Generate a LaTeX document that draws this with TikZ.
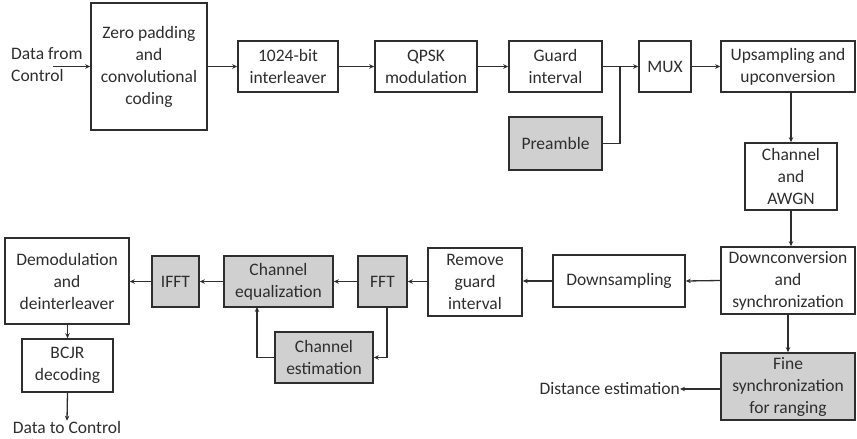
\documentclass[tikz,border=0pt]{standalone}
\usepackage{fontspec}
\setmainfont{Carlito}
\usetikzlibrary{arrows.meta}
\definecolor{ink}{HTML}{2E2E2E}
\definecolor{shade}{HTML}{D0D0D0}
\begin{document}
\begin{tikzpicture}[x=1pt,y=-1pt,
  font=\fontsize{17.5}{22}\selectfont,
  box/.style={draw=ink,line width=1.6pt,align=center,inner sep=0pt,text=ink,fill=white},
  gbox/.style={box,fill=shade},
  lbl/.style={text=ink,inner sep=0pt},
  arr/.style={draw=ink,line width=1.3pt,-{Stealth[length=5pt,width=4.5pt]}},
  ln/.style={draw=ink,line width=1.3pt}]
\useasboundingbox (0,0) rectangle (857,439);
% top row
\node[lbl,anchor=west,align=left] (datain) at (11,65) {Data from\\Control};
\coordinate (dstart) at (53,66.5);
\node[box,minimum width=116,minimum height=127] (zero) at (149,66.5) {Zero padding\\and\\convolutional\\coding};
\node[box,minimum width=100,minimum height=51] (inter) at (288,66.5) {1024-bit\\interleaver};
\node[box,minimum width=102,minimum height=51] (qpsk) at (426,66.5) {QPSK\\modulation};
\node[box,minimum width=93,minimum height=51] (guard) at (555.5,66.5) {Guard\\interval};
\node[gbox,minimum width=93,minimum height=53] (pre) at (555.5,143.5) {Preamble};
\node[box,minimum width=52,minimum height=51] (mux) at (665,66.5) {MUX};
\node[box,minimum width=134,minimum height=51] (up) at (788,66.5) {Upsampling and\\upconversion};
\node[box,minimum width=92,minimum height=67] (chan) at (791,176.5) {Channel\\and\\AWGN};
\node[box,minimum width=134,minimum height=67] (down) at (788,280.5) {Downconversion\\and\\synchronization};
\node[gbox,minimum width=134,minimum height=67] (fine) at (788,386.5) {Fine\\synchronization\\for ranging};
\node[lbl,anchor=east] (dist) at (680,389) {Distance estimation};
% bottom row
\node[box,minimum width=132,minimum height=52] (dsamp) at (619,281) {Downsampling};
\node[box,minimum width=94,minimum height=68] (rgi) at (475,282) {Remove\\guard\\interval};
\node[gbox,minimum width=49,minimum height=51] (fft) at (382.5,281.5) {FFT};
\node[gbox,minimum width=109,minimum height=51] (cheq) at (278.5,281.5) {Channel\\equalization};
\node[gbox,minimum width=47,minimum height=51] (ifft) at (175.5,281.5) {IFFT};
\node[box,minimum width=124,minimum height=86] (demod) at (67,281) {Demodulation\\and\\deinterleaver};
\node[box,minimum width=91,minimum height=53] (bcjr) at (67.5,365.5) {BCJR\\decoding};
\node[lbl] (dtc) at (67,427) {Data to Control};
\node[gbox,minimum width=98,minimum height=51] (chest) at (324,357.5) {Channel\\estimation};
% connectors
\draw[arr] (dstart) -- (zero.west |- dstart);
\draw[arr] (zero.east |- inter.west) -- (inter.west);
\draw[arr] (inter) -- (qpsk);
\draw[arr] (qpsk) -- (guard);
\coordinate (junc) at (620,66.5);
\draw[arr] (guard.east) -- (mux.west);
\draw[ln] (pre.east) -| (junc);
\draw[arr] (mux) -- (up);
\draw[arr] (up.south -| chan.north) -- (chan.north);
\draw[arr] (chan.south) -- (chan.south |- down.north);
\draw[arr] (down.south) -- (fine.north);
\draw[arr] (fine.west |- dist.east) -- (dist.east);
\draw[arr] (down.west) -- (dsamp.east);
\draw[arr] (dsamp.west) -- (rgi.east |- dsamp.west);
\draw[arr] (rgi.west |- fft.east) -- (fft.east);
\draw[arr] (fft) -- (cheq);
\draw[arr] (cheq) -- (ifft);
\draw[arr] (ifft.west) -- (demod.east |- ifft.west);
\draw[arr] (demod.south -| bcjr.north) -- (bcjr.north);
\draw[arr] (bcjr.south) -- (dtc.north);
\coordinate (fftb) at (387,307);
\coordinate (cheqb) at (257,307);
\draw[arr] (fftb) |- (chest.east);
\draw[arr] (chest.west) -| (cheqb);
\end{tikzpicture}
\end{document}
